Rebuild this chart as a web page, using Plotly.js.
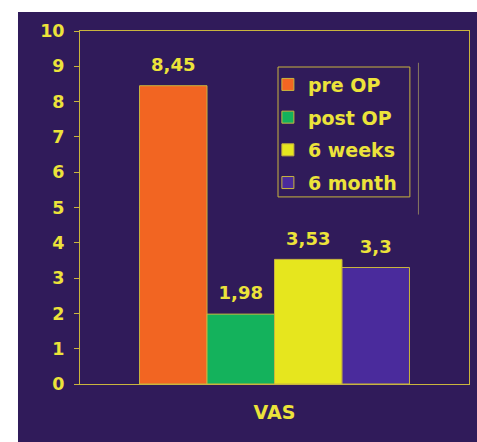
<!DOCTYPE html>
<html><head><meta charset="utf-8">
<script src="https://cdn.plot.ly/plotly-3.0.1.min.js"></script>
<style>html,body{margin:0;padding:0;background:#fff}#chart{width:477px;height:442px}</style>
</head><body><div id="chart"></div>
<script>
const category = ['VAS'];
const seriesNames = ['pre OP', 'post OP', '6 weeks', '6 month'];
const seriesValues = [8.45, 1.98, 3.53, 3.3];
const seriesColors = ['#f26522', '#14b25c', '#e6e61e', '#4a2b9c'];
const yTicks = [0,1,2,3,4,5,6,7,8,9,10];

const txt = '#ece33a';
const lineCol = '#c9b53e';
const fam = 'DejaVu Sans';

const bars = seriesNames.map((n, i) => ({
  type: 'bar', name: n, x: category, y: [seriesValues[i]],
  marker: {color: seriesColors[i], line: {color: lineCol, width: 1}},
  legendgroup: 'g' + i
}));
const labels = seriesNames.map((n, i) => ({
  type: 'scatter', mode: 'markers+text', name: n + ' label', showlegend: false,
  x: category, y: [seriesValues[i]],
  text: [String(seriesValues[i]).replace('.', ',')],
  textposition: 'top center', cliponaxis: false, hoverinfo: 'skip',
  marker: {size: 15, opacity: 0},
  textfont: {family: fam, size: 18, color: txt, weight: 'bold'}
}));

const layout = {
  width: 477, height: 442,
  margin: {l: 80, r: 8, t: 31, b: 58},
  paper_bgcolor: '#ffffff', plot_bgcolor: 'rgba(0,0,0,0)',
  barmode: 'group', bargap: 0.306, bargroupgap: 0,
  scattermode: 'group', scattergap: 0.306,
  font: {family: fam, size: 17, color: txt, weight: 'bold'},
  showlegend: true,
  legend: {x: 0.483, y: 0.902, xanchor: 'left', yanchor: 'top',
    bgcolor: 'rgba(0,0,0,0)', borderwidth: 0,
    font: {family: fam, size: 19, color: txt, weight: 'bold'},
    traceorder: 'grouped', tracegroupgap: 5, itemwidth: 30},
  xaxis: {showline: true, linecolor: lineCol, linewidth: 1, mirror: true,
    ticks: '', ticklabelstandoff: 11, showgrid: false,
    tickfont: {family: fam, size: 19, color: txt, weight: 'bold'}},
  yaxis: {range: [0, 10], tickvals: yTicks, ticktext: yTicks.map(String),
    showline: true, linecolor: lineCol, linewidth: 1, mirror: true,
    ticks: 'outside', ticklen: 5, tickcolor: lineCol, showgrid: false, zeroline: false,
    ticklabelstandoff: 6,
    tickfont: {family: fam, size: 17.5, color: txt, weight: 'bold'}},
  shapes: [
    {type: 'rect', xref: 'paper', yref: 'paper', x0: -0.1594, x1: 1.03, y0: -0.17, y1: 1.0538,
      fillcolor: '#301b5a', line: {width: 0}, layer: 'below'},
    {type: 'rect', xref: 'paper', yref: 'paper', x0: 0.509, x1: 0.848, y0: 0.530, y1: 0.898,
      line: {color: lineCol, width: 1}},
    {type: 'line', xref: 'paper', yref: 'paper', x0: 0.87, x1: 0.87, y0: 0.48, y1: 0.91,
      line: {color: '#8a7a60', width: 1}}
  ]
};
Plotly.newPlot('chart', bars.concat(labels), layout, {displayModeBar: false});
</script></body></html>
